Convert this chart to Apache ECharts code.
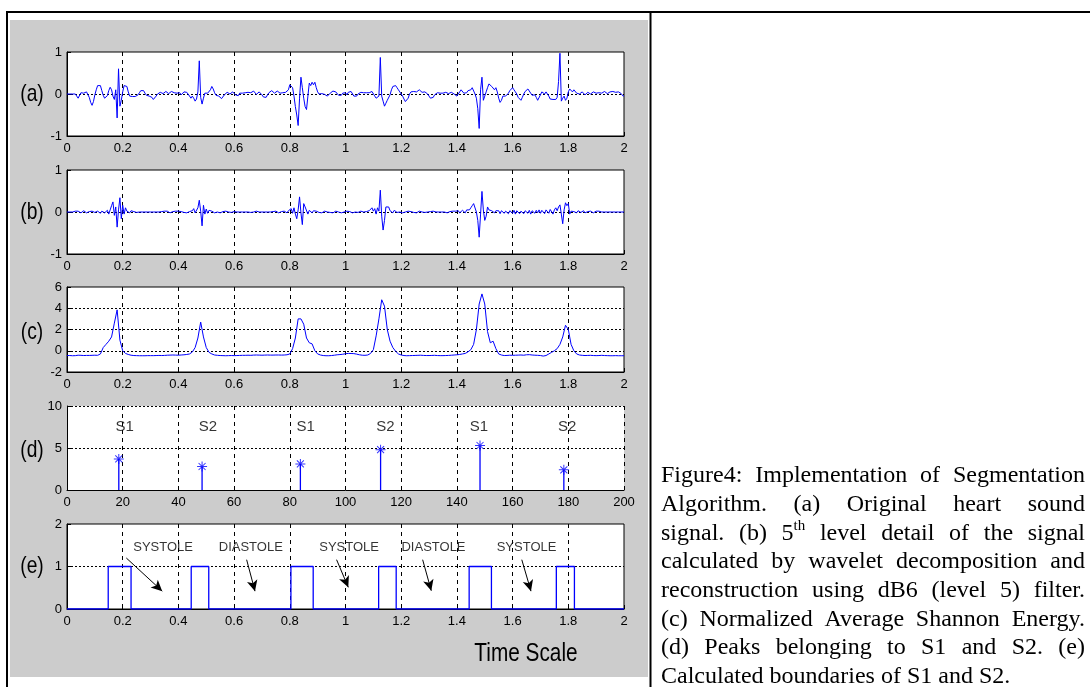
<!DOCTYPE html>
<html>
<head>
<meta charset="utf-8">
<title>Segmentation</title>
<script src="https://cdn.jsdelivr.net/npm/echarts@6/dist/echarts.min.js"></script>
<style>
html, body { margin: 0; padding: 0; background: #fff; }
#chart { width: 1090px; height: 687px; }
</style>
</head>
<body>
<div id="chart"></div>
<script>
// sampling steps of the traced signals (seconds)
const STEP_AB = 0.005;
const STEP_C = 0.01;

// (a) original heart sound, t = 0 .. 2 s
const aVals = [
  0,0,0,0,0,0,0,-0.05,-0.1,-0.06,
  0.03,0.05,0.02,0.03,0.05,0.02,-0.08,-0.2,-0.27,-0.18,
  -0.02,0.1,0.2,0.24,0.2,0.08,-0.03,-0.1,-0.11,-0.04,
  0.08,0.16,0.1,-0.05,-0.13,0.1,-0.57,0.6,-0.29,-0.15,
  0.05,0.2,0.24,0.18,0.05,-0.05,-0.08,-0.06,-0.05,-0.06,
  -0.05,-0.02,0.03,0.08,0.1,0.08,0.02,-0.03,-0.05,-0.05,
  -0.04,-0.08,-0.13,-0.12,-0.05,0,0.02,0.04,0.02,0.01,
  0.03,0.06,0.03,0.01,0.02,0.06,0.07,0.03,0,0.02,
  0.04,0.03,-0.02,0.02,0.05,0.06,0.04,0.01,-0.05,-0.1,
  -0.05,-0.1,-0.17,-0.12,0.05,0.79,-0.08,-0.24,-0.1,0.02,
  0.05,0.02,0,0.1,0.18,0.12,0.03,-0.03,-0.06,-0.05,
  -0.09,-0.11,-0.07,-0.02,0.02,0.04,0.03,0,0.02,0.05,
  0.03,-0.02,-0.06,-0.04,0.02,0.05,0.02,-0.02,0.03,0.06,
  0.04,0.01,0.03,0.06,0.07,0.03,-0.01,0.02,0.05,0.03,
  -0.02,-0.07,-0.1,-0.08,-0.02,0.03,0.06,0.08,0.05,0.02,
  0.04,0.07,0.05,0.02,0.01,0.03,0.05,0.04,0.02,0.1,
  0.22,0.26,0.15,-0.05,-0.3,-0.5,-0.75,-0.1,0.4,0.15,
  -0.1,-0.3,-0.37,-0.05,0.26,0.2,0.28,0.22,0.28,0.15,
  0.05,0,0,0.01,0,-0.01,-0.04,-0.05,-0.02,0.02,
  0.05,0.07,0.08,0.05,0.02,-0.03,-0.05,-0.03,0.02,0.05,
  0.03,-0.02,0.04,0.08,0.06,0.02,-0.05,-0.08,-0.05,0,
  0.03,0.04,0.02,0.03,0.05,0.03,0.01,0.03,0.05,0.06,
  0.04,-0.05,-0.1,-0.07,-0.05,0.87,-0.05,-0.17,-0.29,-0.22,
  -0.15,-0.12,-0.02,0.1,0.18,0.22,0.2,0.15,0.1,0.05,
  0.02,-0.05,-0.12,-0.18,-0.19,-0.1,0,0.05,0.04,0.06,
  0.08,0.05,0.07,0.1,0.08,0.04,0.02,0.05,0.03,0,
  -0.05,-0.1,-0.12,-0.08,-0.02,0.02,0.03,0.03,0.02,0.03,
  0.02,0.03,0.04,0.03,0.01,0.02,0.04,0.02,0,-0.03,
  -0.05,-0.02,0.05,0.1,0.08,0.02,-0.02,0.03,0.08,0.05,
  0.1,0.15,0.12,0,-0.1,-0.35,-0.82,0.1,0.4,-0.15,
  -0.05,0.05,0.15,0.24,0.22,0.18,0.15,0.1,0.15,0.05,
  -0.1,-0.2,-0.15,-0.05,-0.02,-0.05,-0.03,0.02,0.08,0.12,
  0.15,0.1,0.05,0,-0.08,-0.12,-0.15,-0.08,0,0.06,
  0.1,0.12,0.08,0.02,-0.03,-0.05,-0.02,-0.08,-0.15,-0.12,
  -0.02,0.05,0.03,0,0.05,0.04,-0.05,-0.12,-0.13,-0.13,
  -0.13,-0.13,-0.08,0.3,0.97,-0.17,-0.1,-0.05,-0.15,-0.1,
  0.05,0.12,0.1,0.05,0.1,0.06,0.02,-0.02,0,0.03,
  0.05,0.02,-0.02,0.01,0.04,0.03,0,0.02,0.05,0.03,
  0.02,0.04,0.03,0.05,0.02,0.04,0.06,0.03,0.01,0.03,
  0.05,0.02,0.06,0.07,0.04,0.02,0.05,0.04,0.01,-0.04,
  -0.05
];

// (b) 5th level detail
const bVals = [
  0,0,0,0,0,0,0.02,-0.01,0.02,0,
  -0.02,0.01,0.03,-0.01,-0.02,0.02,0.01,-0.02,0.02,0.03,
  -0.01,-0.02,0.02,0.01,-0.03,0.02,0.03,-0.02,0.01,0.04,
  -0.05,0.05,0.15,0.24,-0.08,0.12,-0.36,0.05,0.34,-0.16,
  0.16,-0.05,0.1,0.02,0.06,-0.02,0.03,0,0.01,0.02,
  -0.01,0.02,0,0.01,0,0,0,0,0,0,
  0,0,0,0,0,0,0,0,0.01,-0.01,
  0.02,-0.01,0.02,0,-0.02,0.02,0.01,-0.01,0.02,0,
  0.02,-0.02,0.01,0.02,-0.01,0.03,-0.02,0.02,0.01,0.05,
  0.03,0.08,-0.02,-0.06,0.1,0.28,0.02,-0.33,0.16,-0.05,
  0.07,-0.03,0.04,0,0.02,0.01,-0.02,0.02,0,0.01,
  -0.02,0.02,0.01,-0.02,0.02,0.01,0,0.02,-0.01,0,
  0.01,0,0,0,0,0,0,0,0,0,
  0,0.01,-0.01,0.02,0,-0.01,0.02,0,0,0,
  0,0,0,0,0,0,0,0,0.01,-0.01,
  0.02,0,-0.02,0.02,0.01,-0.01,0.02,0.01,-0.02,0.03,
  0.02,0.08,-0.03,0.1,-0.05,-0.16,0.05,0.36,-0.02,-0.3,
  0.2,0.12,0.14,-0.05,0.04,0.07,-0.02,0.03,-0.01,0.02,
  0,-0.01,0.02,-0.02,0.01,0.02,-0.02,0,0.02,-0.01,
  0.02,-0.02,0.01,0.02,-0.01,0,0.01,-0.02,0.02,0,
  -0.01,0.02,-0.02,0.01,0.02,-0.02,0.01,0,0.02,-0.01,
  0.01,0.02,-0.01,0,0.02,0.01,-0.02,0.03,0.06,0.1,
  0.02,0.08,-0.05,0.1,0.02,0.52,-0.1,-0.43,-0.2,0.12,
  0.08,0.12,0.03,0.06,-0.02,0.04,0.03,-0.01,0.02,0,
  0.01,-0.02,0.02,0,-0.01,0.02,-0.02,0.01,0.02,-0.01,
  0.02,-0.02,0.01,0.02,-0.01,0,0.02,-0.01,0.01,0,
  0,0.01,-0.01,0.02,0,0,0,0,0,0,
  0,0,0.02,-0.02,0.02,0.01,-0.02,0.02,0.05,0.02,
  0,0.03,-0.02,0.02,0.04,0.02,-0.02,0.05,0.08,0.05,
  0.1,0.15,0.2,0.24,0,-0.2,-0.6,-0.05,0.49,0.05,
  -0.2,-0.1,0.12,0.05,0.08,0.03,0.04,-0.02,0.03,0.01,
  0.03,-0.04,0.03,0.05,-0.03,0.02,0.04,-0.04,0.03,0.05,
  -0.03,0.04,-0.05,0.03,0.05,-0.04,0.02,0.05,-0.04,0.03,
  0.05,-0.03,0.04,-0.05,0.03,0.05,-0.03,0.04,-0.02,0.05,
  -0.03,0.04,0.02,-0.04,0.05,0.03,-0.03,0.06,0.02,-0.05,
  0.05,0.1,0.03,0.12,0.17,-0.05,-0.28,0.05,0.22,0.15,
  0.2,-0.05,0.02,0.06,0.01,0.04,-0.02,0.03,0.02,-0.01,
  0.02,0.03,-0.02,0.02,0.01,-0.01,0.02,0.03,-0.02,0.01,
  0.02,-0.01,0.02,0,0,0,0,0,0,0,
  0,0,0,0,0,0,0,0,0,0,
  0
];

// (c) normalized average Shannon energy
const cVals = [
  -0.45,-0.45,-0.47,-0.46,-0.42,-0.43,-0.45,-0.44,-0.44,-0.43,
  -0.42,-0.43,-0.3,0.3,0.6,0.9,1.3,2.6,3.85,1.0,
  0.0,-0.25,-0.35,-0.42,-0.45,-0.46,-0.47,-0.47,-0.47,-0.46,
  -0.46,-0.46,-0.45,-0.44,-0.45,-0.44,-0.42,-0.41,-0.4,-0.41,
  -0.42,-0.4,-0.38,-0.35,-0.3,-0.12,0.3,1.2,2.7,1.3,
  0.3,-0.15,-0.3,-0.4,-0.43,-0.45,-0.46,-0.47,-0.46,-0.45,
  -0.46,-0.45,-0.44,-0.43,-0.43,-0.42,-0.43,-0.41,-0.4,-0.41,
  -0.42,-0.41,-0.4,-0.41,-0.41,-0.4,-0.4,-0.41,-0.4,-0.38,
  -0.3,0.2,1.2,3.0,3.0,2.5,1.2,0.75,0.65,0.0,
  -0.3,-0.4,-0.45,-0.47,-0.47,-0.45,-0.42,-0.38,-0.36,-0.33,
  -0.28,-0.25,-0.26,-0.27,-0.32,-0.38,-0.42,-0.43,-0.4,-0.25,
  0.1,1.4,3.0,4.8,4.2,2.0,0.9,0.3,-0.05,-0.3,
  -0.4,-0.45,-0.47,-0.46,-0.45,-0.44,-0.43,-0.42,-0.44,-0.45,
  -0.45,-0.44,-0.43,-0.45,-0.46,-0.46,-0.45,-0.44,-0.42,-0.4,
  -0.38,-0.35,-0.3,-0.25,-0.1,0.1,0.6,2.0,4.4,5.35,
  4.4,1.8,0.75,0.9,0.2,-0.3,-0.4,-0.45,-0.44,-0.42,
  -0.43,-0.42,-0.41,-0.4,-0.42,-0.38,-0.37,-0.4,-0.42,-0.43,
  -0.45,-0.5,-0.45,-0.3,-0.15,0.0,0.2,0.6,1.3,2.4,
  2.0,0.6,0.0,-0.3,-0.4,-0.43,-0.45,-0.44,-0.43,-0.45,
  -0.46,-0.45,-0.43,-0.45,-0.46,-0.47,-0.47,-0.46,-0.47,-0.47,
  -0.47
];

// (d) peaks (sample index, amplitude) and their labels
const dPeakX = [18.6, 48.5, 83.8, 112.6, 148.3, 178.4];
const dPeakVal = [3.7, 2.8, 3.1, 4.8, 5.3, 2.4];
const dLabels = ['S1', 'S2', 'S1', 'S2', 'S1', 'S2'];
const dLabelX = [20.7, 50.6, 85.7, 114.3, 147.9, 179.6];
const dLabelY = 7.5;

// (e) boundaries of S1 / S2 (seconds)
const eStart = [0.148, 0.446, 0.804, 1.119, 1.444, 1.757];
const eEnd = [0.23, 0.509, 0.884, 1.182, 1.524, 1.822];
const eTexts = ['SYSTOLE', 'DIASTOLE', 'SYSTOLE', 'DIASTOLE', 'SYSTOLE'];
const eTextX = [0.345, 0.66, 1.013, 1.316, 1.65];
const eTextY = 1.44;
const eArrowFrom = [[0.213, 1.2], [0.645, 1.16], [0.968, 1.16], [1.277, 1.16], [1.633, 1.16]];
const eArrowTo = [[0.342, 0.42], [0.675, 0.42], [1.01, 0.51], [1.308, 0.43], [1.666, 0.42]];

const panelNames = ['(a)', '(b)', '(c)', '(d)', '(e)'];
const captionLines = [
  'Figure4: Implementation of Segmentation',
  'Algorithm. (a) Original heart sound',
  'signal. (b) 5^th level detail of the signal',
  'calculated by wavelet decomposition and',
  'reconstruction using dB6 (level 5) filter.',
  '(c) Normalized Average Shannon Energy.',
  '(d) Peaks belonging to S1 and S2. (e)',
  'Calculated boundaries of S1 and S2.'
];

// ---- layout ----
const BLUE = '#0000ff';
const SANS = '"Liberation Sans", Arial, sans-serif';
const SERIF = '"Liberation Serif", "Times New Roman", serif';
const NARROW_X = 0.8; // horizontal squeeze to mimic the narrow MATLAB font
const gridTop = [52, 170, 287, 406, 524];
const gridH = [84, 84, 85, 84, 85];
const labelY = [94, 212, 332, 450, 566];
const axisCfg = [
  { xmax: 2, xint: 0.2, ymin: -1, ymax: 1, yint: 1, boxed: true },
  { xmax: 2, xint: 0.2, ymin: -1, ymax: 1, yint: 1, boxed: true },
  { xmax: 2, xint: 0.2, ymin: -2, ymax: 6, yint: 2, boxed: true },
  { xmax: 200, xint: 20, ymin: 0, ymax: 10, yint: 5, boxed: false },
  { xmax: 2, xint: 0.2, ymin: 0, ymax: 2, yint: 1, boxed: true }
];

const chart = echarts.init(document.getElementById('chart'));

const grids = axisCfg.map((c, i) => ({
  left: 67, width: 557, top: gridTop[i], height: gridH[i],
  show: true, backgroundColor: '#fff',
  borderColor: '#000', borderWidth: c.boxed ? 1 : 0
}));

const xAxes = axisCfg.map((c, i) => ({
  gridIndex: i, type: 'value', min: 0, max: c.xmax, interval: c.xint,
  axisLine: { show: true, onZero: false, lineStyle: { color: '#000', width: 1 } },
  axisTick: { show: true, inside: true, length: 4, lineStyle: { color: '#000' } },
  axisLabel: { color: '#000', fontFamily: SANS, fontSize: 13, margin: 6 },
  splitLine: { show: true, showMinLine: false, showMaxLine: !c.boxed,
    lineStyle: { color: '#000', width: 1, type: [4, 4] } }
}));

const yAxes = axisCfg.map((c, i) => ({
  gridIndex: i, type: 'value', min: c.ymin, max: c.ymax, interval: c.yint,
  axisLine: { show: true, onZero: false, lineStyle: { color: '#000', width: 1 } },
  axisTick: { show: true, inside: true, length: 4, lineStyle: { color: '#000' } },
  axisLabel: { color: '#000', fontFamily: SANS, fontSize: 13, margin: 5 },
  splitLine: { show: true, showMinLine: false, showMaxLine: !c.boxed,
    lineStyle: { color: '#000', width: 1, type: [2, 2] } }
}));

function signal(vals, step, idx) {
  return {
    type: 'line', xAxisIndex: idx, yAxisIndex: idx,
    data: vals.map((v, i) => [+(i * step).toFixed(3), v]),
    symbol: 'none', lineStyle: { color: BLUE, width: 1 }, z: 3
  };
}

// step outline of the boundaries
const ePts = [[0, 0]];
eStart.forEach((s, i) => { ePts.push([s, 0], [s, 1], [eEnd[i], 1], [eEnd[i], 0]); });
ePts.push([2, 0]);

const ASTERISK = 'path://M9 0L11 0L11 20L9 20Z M0 9L20 9L20 11L0 11Z ' +
  'M2.3 3.7L3.7 2.3L17.7 16.3L16.3 17.7Z M16.3 2.3L17.7 3.7L3.7 17.7L2.3 16.3Z';

const series = [
  signal(aVals, STEP_AB, 0),
  signal(bVals, STEP_AB, 1),
  signal(cVals, STEP_C, 2),
  {
    type: 'bar', xAxisIndex: 3, yAxisIndex: 3, barWidth: 1.3,
    data: dPeakX.map((x, i) => [x, dPeakVal[i]]),
    itemStyle: { color: BLUE }, z: 3
  },
  {
    type: 'scatter', xAxisIndex: 3, yAxisIndex: 3, symbol: ASTERISK, symbolSize: 10,
    data: dPeakX.map((x, i) => [x, dPeakVal[i]]),
    itemStyle: { color: BLUE }, z: 4
  },
  {
    type: 'scatter', xAxisIndex: 3, yAxisIndex: 3, symbolSize: 0,
    data: dLabels.map((n, i) => ({ name: n, value: [dLabelX[i], dLabelY] })),
    label: { show: true, position: 'inside', formatter: '{b}', color: '#000',
      fontFamily: SANS, fontSize: 15 }, z: 5
  },
  {
    type: 'line', xAxisIndex: 4, yAxisIndex: 4, data: ePts, symbol: 'none',
    lineStyle: { color: BLUE, width: 1.3 }, z: 3,
    markLine: {
      silent: true, symbol: ['none', 'arrow'], symbolSize: [8, 11],
      label: { show: false },
      lineStyle: { color: '#000', type: 'solid', width: 1 },
      data: eArrowFrom.map((f, i) => [{ coord: f }, { coord: eArrowTo[i] }])
    }
  },
  {
    type: 'scatter', xAxisIndex: 4, yAxisIndex: 4, symbolSize: 0,
    data: eTexts.map((n, i) => ({ name: n, value: [eTextX[i], eTextY] })),
    label: { show: true, position: 'inside', formatter: '{b}', color: '#000',
      fontFamily: SANS, fontSize: 13 }, z: 5
  }
];

// ---- caption, justified word by word ----
const measure = document.createElement('canvas').getContext('2d');
function textW(s, size, fam) { measure.font = size + 'px ' + fam; return measure.measureText(s).width; }
const CAP_SIZE = 24, SUP_SIZE = 15;
const capLeft = 661, capRight = 1085, capTop = 476, capStep = 28.7;
function capText(s, x, y, size) {
  return { type: 'text', x: x, y: y, silent: true, z: 20,
    style: { text: s, fontSize: size, fontFamily: SERIF, fill: '#000',
      align: 'left', verticalAlign: 'middle' } };
}
const capEls = [];
captionLines.forEach((line, li) => {
  const words = line.split(' ');
  const widths = words.map(w => {
    if (w.indexOf('^') >= 0) {
      const p = w.split('^');
      return textW(p[0], CAP_SIZE, SERIF) + textW(p[1], SUP_SIZE, SERIF);
    }
    return textW(w, CAP_SIZE, SERIF);
  });
  const total = widths.reduce((a, b) => a + b, 0);
  const last = li === captionLines.length - 1;
  const gap = last ? textW(' ', CAP_SIZE, SERIF) : (capRight - capLeft - total) / (words.length - 1);
  const y = capTop + li * capStep;
  let x = capLeft;
  words.forEach((w, i) => {
    if (w.indexOf('^') >= 0) {
      const p = w.split('^');
      capEls.push(capText(p[0], x, y, CAP_SIZE));
      capEls.push(capText(p[1], x + textW(p[0], CAP_SIZE, SERIF), y - 7, SUP_SIZE));
    } else {
      capEls.push(capText(w, x, y, CAP_SIZE));
    }
    x += widths[i] + gap;
  });
});

function narrowText(s, x, y, size) {
  return { type: 'text', x: x, y: y, scaleX: NARROW_X, silent: true, z: 20,
    style: { text: s, fontSize: size, fontFamily: SANS, fill: '#000', align: 'center', verticalAlign: 'middle' } };
}

const graphics = [
  { type: 'rect', shape: { x: 10, y: 20, width: 638, height: 657 }, style: { fill: '#cccccc' }, z: -10, silent: true },
  { type: 'line', shape: { x1: 6, y1: 12, x2: 1090, y2: 12 }, style: { stroke: '#000', lineWidth: 2 }, z: 20, silent: true },
  { type: 'line', shape: { x1: 7, y1: 11, x2: 7, y2: 687 }, style: { stroke: '#000', lineWidth: 2 }, z: 20, silent: true },
  { type: 'line', shape: { x1: 650.5, y1: 11, x2: 650.5, y2: 687 }, style: { stroke: '#000', lineWidth: 2 }, z: 20, silent: true },
  narrowText('Time Scale', 526, 654, 26)
].concat(panelNames.map((n, i) => narrowText(n, 32, labelY[i], 24))).concat(capEls);

chart.setOption({
  animation: false,
  backgroundColor: '#fff',
  grid: grids,
  xAxis: xAxes,
  yAxis: yAxes,
  series: series,
  graphic: graphics
});
</script>
</body>
</html>
